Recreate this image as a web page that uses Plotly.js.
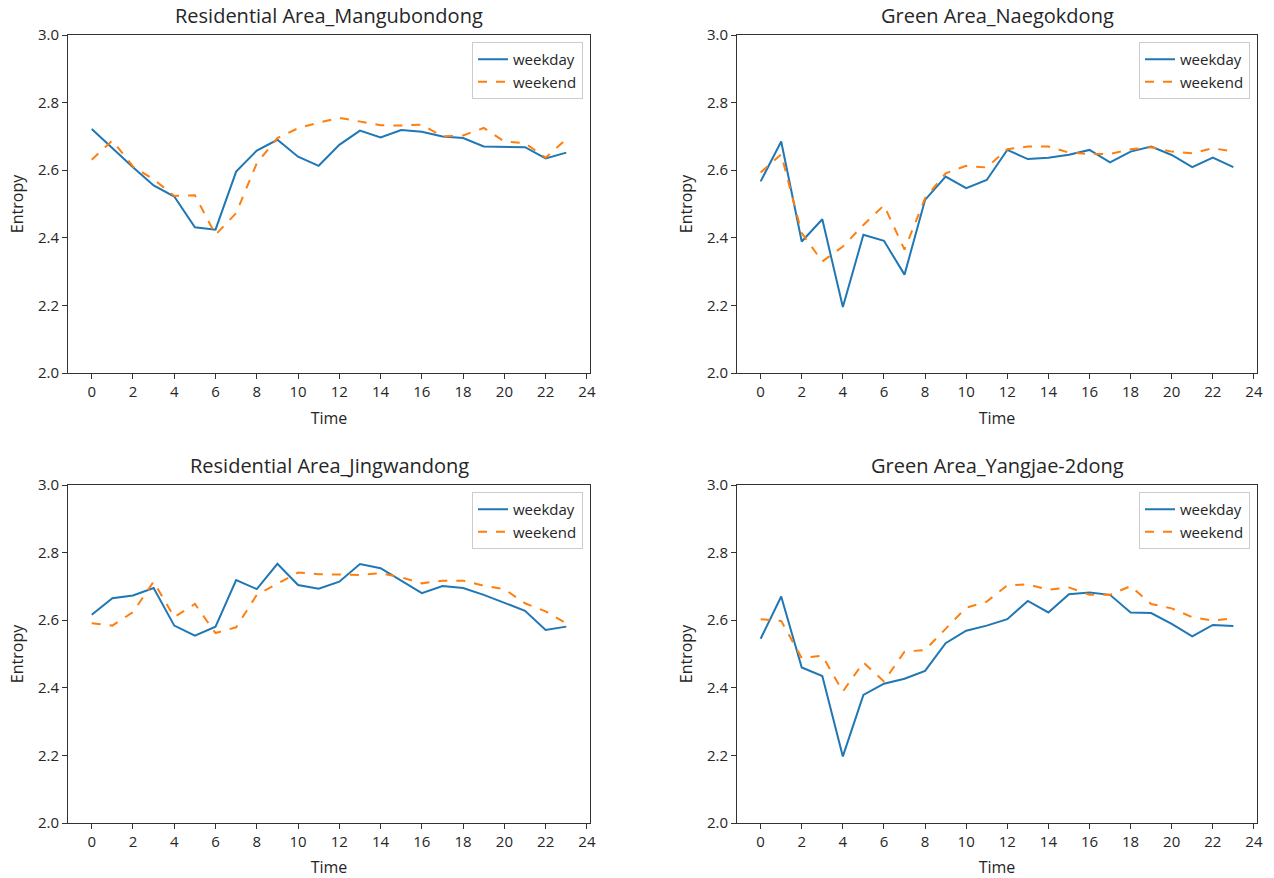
<!DOCTYPE html>
<html>
<head>
<meta charset="utf-8">
<script src="https://cdn.plot.ly/plotly-3.0.1.min.js"></script>
<style>html,body{margin:0;padding:0;background:#fff;}#chart{width:1274px;height:878px;}</style>
</head>
<body>
<div id="chart"></div>
<script>
const hours = [0,1,2,3,4,5,6,7,8,9,10,11,12,13,14,15,16,17,18,19,20,21,22,23];
const titles = ["Residential Area_Mangubondong","Green Area_Naegokdong","Residential Area_Jingwandong","Green Area_Yangjae-2dong"];

const mangubondongWeekday = [2.722,2.665,2.609,2.555,2.522,2.431,2.424,2.596,2.658,2.690,2.640,2.613,2.675,2.717,2.697,2.719,2.714,2.700,2.695,2.670,2.670,2.668,2.635,2.652];
const mangubondongWeekend = [2.631,2.688,2.611,2.573,2.524,2.526,2.409,2.473,2.621,2.695,2.724,2.741,2.755,2.745,2.733,2.732,2.735,2.700,2.703,2.725,2.685,2.680,2.637,2.692];

const naegokdongWeekday = [2.567,2.685,2.389,2.455,2.195,2.409,2.391,2.291,2.512,2.581,2.547,2.571,2.660,2.633,2.637,2.646,2.660,2.623,2.655,2.670,2.645,2.609,2.637,2.609];
const naegokdongWeekend = [2.593,2.647,2.414,2.330,2.374,2.438,2.496,2.365,2.517,2.591,2.613,2.608,2.662,2.670,2.670,2.652,2.648,2.648,2.662,2.668,2.655,2.650,2.665,2.655];

const jingwandongWeekday = [2.616,2.665,2.673,2.695,2.584,2.554,2.581,2.719,2.692,2.767,2.704,2.693,2.714,2.766,2.754,2.717,2.680,2.701,2.695,2.675,2.652,2.628,2.571,2.581];
const jingwandongWeekend = [2.591,2.584,2.624,2.714,2.609,2.648,2.562,2.579,2.675,2.709,2.741,2.736,2.734,2.734,2.739,2.727,2.709,2.717,2.717,2.702,2.692,2.650,2.626,2.591];

const yangjaeWeekday = [2.545,2.670,2.460,2.435,2.197,2.379,2.412,2.427,2.450,2.532,2.569,2.584,2.603,2.657,2.623,2.677,2.682,2.675,2.623,2.621,2.589,2.552,2.586,2.583];
const yangjaeWeekend = [2.603,2.598,2.488,2.495,2.389,2.475,2.419,2.507,2.512,2.576,2.637,2.655,2.703,2.706,2.690,2.697,2.675,2.675,2.701,2.648,2.635,2.609,2.599,2.606];

const xTicks = [0,2,4,6,8,10,12,14,16,18,20,22,24];
const yTicks = [2.0,2.2,2.4,2.6,2.8,3.0];

const W = 1274, H = 878;
const FONT = "Open Sans, Noto Sans, DejaVu Sans, sans-serif";
const TXT = "#262626";
// panel pixel boxes [left, right, top, bottom]
const boxes = [[68,590,35,373],[737,1257,35,373],[68,590,485,823],[737,1257,485,823]];
const series = [
  [mangubondongWeekday, mangubondongWeekend],
  [naegokdongWeekday, naegokdongWeekend],
  [jingwandongWeekday, jingwandongWeekend],
  [yangjaeWeekday, yangjaeWeekend]
];

const traces = [];
const layout = {
  width: W, height: H,
  margin: {l:0,r:0,t:0,b:0},
  paper_bgcolor: "#fff", plot_bgcolor: "#fff",
  font: {family: FONT, size: 15, color: TXT},
  showlegend: true,
  annotations: []
};

boxes.forEach((b, i) => {
  const n = i + 1;
  const xa = n === 1 ? "x" : "x" + n;
  const ya = n === 1 ? "y" : "y" + n;
  const lg = n === 1 ? "legend" : "legend" + n;
  traces.push({
    x: hours, y: series[i][0], type: "scatter", mode: "lines", name: "weekday",
    xaxis: xa, yaxis: ya, legend: lg,
    line: {color: "#1f77b4", width: 2}
  });
  traces.push({
    x: hours, y: series[i][1], type: "scatter", mode: "lines", name: "weekend",
    xaxis: xa, yaxis: ya, legend: lg,
    line: {color: "#ff7f0e", width: 2, dash: "dash"}
  });
  const axCommon = {
    showgrid: false, zeroline: false, showline: true, mirror: true,
    linecolor: "#333", linewidth: 1, ticks: "outside", ticklen: 5,
    tickcolor: "#333", tickfont: {family: FONT, size: 15, color: TXT}
  };
  layout["xaxis" + (n === 1 ? "" : n)] = Object.assign({}, axCommon, {
    domain: [b[0]/W, b[1]/W], anchor: ya, range: [-1.15, 24.15],
    tickmode: "array", tickvals: xTicks, ticktext: xTicks.map(String),
    title: {text: "Time", font: {family: FONT, size: 16, color: TXT}, standoff: 12}
  });
  layout["yaxis" + (n === 1 ? "" : n)] = Object.assign({}, axCommon, {
    domain: [1 - b[3]/H, 1 - b[2]/H], anchor: xa, range: [2.0, 3.0],
    tickmode: "array", tickvals: yTicks, ticktext: yTicks.map(v => v.toFixed(1)),
    title: {text: "Entropy", font: {family: FONT, size: 16, color: TXT}, standoff: 10}
  });
  layout[lg] = {
    x: (b[1] - 7)/W, xanchor: "right", y: 1 - (b[2] + 7)/H, yanchor: "top",
    bgcolor: "rgba(255,255,255,0.8)", bordercolor: "#ccc", borderwidth: 1,
    font: {family: FONT, size: 15, color: TXT}, tracegroupgap: 0
  };
  layout.annotations.push({
    text: titles[i], xref: "paper", yref: "paper",
    x: (b[0] + b[1]) / 2 / W, y: 1 - b[2]/H, xanchor: "center", yanchor: "bottom",
    yshift: 4, showarrow: false, font: {family: FONT, size: 20, color: TXT}
  });
});

Plotly.newPlot("chart", traces, layout, {displayModeBar: false, staticPlot: true});
</script>
</body>
</html>
